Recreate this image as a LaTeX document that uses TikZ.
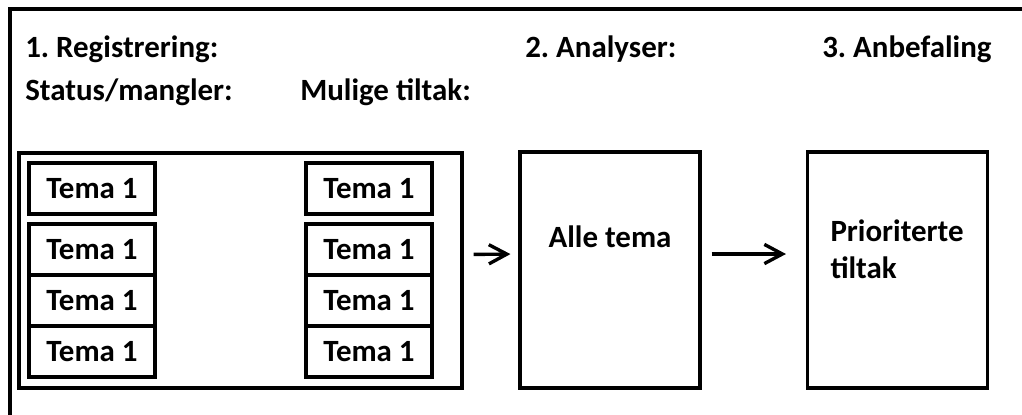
\documentclass[tikz,border=0pt]{standalone}
\usepackage{fontspec}
\setmainfont{Carlito}
\frenchspacing
\usetikzlibrary{arrows.meta, positioning}

\begin{document}
\begin{tikzpicture}[
    font=\bfseries\fontsize{22}{26.5}\selectfont,
    frame/.style={draw, line width=2.2pt, inner sep=0pt},
    tema/.style={draw, line width=2.2pt, minimum width=3.15cm, minimum height=1.275cm, inner sep=0pt, outer sep=0pt},
    stage/.style={draw, line width=2.2pt, minimum width=4.5cm, minimum height=5.9cm},
    heading/.style={anchor=base west, inner sep=0pt},
    arrow/.style={-{Straight Barb[length=4.5mm, width=4.8mm]}, line width=2.4pt}
]
    \useasboundingbox (0,0) rectangle (25.55,-10.35);

    % Outer frame, cut off on the right and at the bottom
    \draw[line width=2.2pt] (0.25,-10.6) -- (0.25,-0.225) -- (25.8,-0.225);

    % Headings
    \node[heading] (reg) at (0.625,-1.425) {1. Registrering:};
    \node[heading] (status) at (0.625,-2.5) {Status/mangler:};
    \node[heading] (tiltak) at (7.5,-2.5) {Mulige tiltak:};
    \node[heading] (ana) at (13.125,-1.425) {2. Analyser:};
    \node[heading] (anb) at (20.55,-1.425) {3. Anbefaling};

    % Registration box with the themes
    \node[frame, minimum width=11.075cm, minimum height=5.875cm] (regbox) at (6.0125,-6.7625) {};

    \node[tema] (s1) at (2.3,-4.7125) {Tema 1};
    \node[tema, below=0.25cm of s1] (s2) {Tema 1};
    \node[tema, below=0pt of s2] (s3) {Tema 1};
    \node[tema, below=0pt of s3] (s4) {Tema 1};

    \node[tema] (t1) at (9.225,-4.7125) {Tema 1};
    \node[tema, below=0.25cm of t1] (t2) {Tema 1};
    \node[tema, below=0pt of t2] (t3) {Tema 1};
    \node[tema, below=0pt of t3] (t4) {Tema 1};

    % Analysis and recommendation
    \node[stage, label={[anchor=north, yshift=-1.75cm]north:Alle tema}] (alle) at (15.25,-6.75) {};
    \node[stage, label={[anchor=north west, align=left, xshift=0.49cm, yshift=-1.6cm]north west:Prioriterte\\tiltak}] (prio) at (22.4375,-6.75) {};

    % Connections
    \draw[arrow, shorten <=0.25cm, shorten >=0.2cm] ([yshift=0.4cm]regbox.east) -- ([yshift=0.4cm]alle.west);
    \draw[arrow, shorten <=0.25cm, shorten >=0.5cm] ([yshift=0.4cm]alle.east) -- ([yshift=0.4cm]prio.west);
\end{tikzpicture}
\end{document}
